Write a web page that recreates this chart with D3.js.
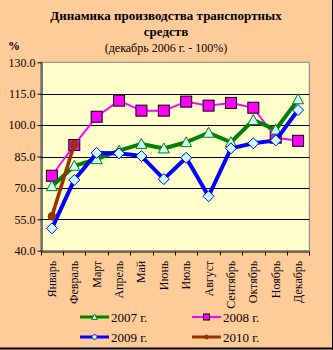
<!DOCTYPE html>
<html><head><meta charset="utf-8">
<script src="https://cdn.jsdelivr.net/npm/d3@7"></script>
<style>body{margin:0;padding:0;background:#fff}svg{display:block}</style>
</head><body>
<script>
const months = ["Январь","Февраль","Март","Апрель","Май","Июнь","Июль","Август","Сентябрь","Октябрь","Ноябрь","Декабрь"];
const yTicks = [40,55,70,85,100,115,130];
const v2007 = [70.8,80.5,83.7,87.8,91.0,88.8,91.8,96.3,91.8,102.4,97.8,112.3];
const v2008 = [75.8,90.5,104.0,111.7,106.9,106.9,111.2,109.3,110.6,108.3,94.0,92.5];
const v2009 = [50.7,73.8,86.7,86.5,85.2,74.2,84.4,66.0,88.9,91.3,92.7,107.2];
const v2010 = [56.4,90.8];
const seriesNames = ["2007 г.","2008 г.","2009 г.","2010 г."];

const W=333,H=350;
const svg=d3.select("body").append("svg").attr("width",W).attr("height",H);
svg.append("rect").attr("width",W).attr("height",H).attr("fill","#FFCC99");
svg.append("line").attr("x1",332.5).attr("x2",332.5).attr("y1",0).attr("y2",H).attr("stroke","#000");
svg.append("line").attr("x1",0).attr("x2",W).attr("y1",348.5).attr("y2",348.5).attr("stroke","#000").attr("stroke-width",2);

const L=40.7,R=309.3,T=62.3,B=250.7;
const x=d3.scaleBand().domain(months).range([L,R]);
const y=d3.scaleLinear().domain([40,130]).range([B,T]);
const cx=m=>x(m)+x.bandwidth()/2;

svg.append("rect").attr("x",L).attr("y",T).attr("width",R-L).attr("height",B-T).attr("fill","#FFFFCC").attr("stroke","#808080");
const g=svg.append("g");
yTicks.filter(t=>t>40&&t<130).forEach(t=>{
  g.append("line").attr("x1",L).attr("x2",R).attr("y1",Math.round(y(t))+0.5).attr("y2",Math.round(y(t))+0.5).attr("stroke","#000");
});
// y axis
const ya=svg.append("g").attr("transform",`translate(${Math.round(L)+0.5},0)`).call(d3.axisLeft(y).tickValues(yTicks).tickSize(4).tickSizeOuter(0).tickFormat(d3.format(".1f")));
ya.select(".domain").attr("stroke","#000");
ya.selectAll("text").attr("font-family","Liberation Serif").attr("font-size","12px").attr("fill","#000").attr("x",-6);
// x axis
const xa=svg.append("g").attr("transform",`translate(0,${Math.round(B)+0.5})`).call(d3.axisBottom(x).tickSize(4).tickSizeOuter(0).tickFormat(""));
xa.selectAll(".tick").remove();
xa.select(".domain").attr("stroke","#000");
months.concat(["_end"]).forEach((m,i)=>{
  const xx = Math.round(L + i*x.bandwidth())+0.5;
  xa.append("line").attr("x1",xx).attr("x2",xx).attr("y1",0).attr("y2",4).attr("stroke","#000");
});
months.forEach(m=>{
  svg.append("text").attr("transform",`translate(${cx(m)+4},${B+10}) rotate(-90)`)
    .attr("text-anchor","end").attr("font-family","Liberation Serif").attr("font-size","12px").attr("fill","#000").text(m);
});

const line=d3.line().x((d,i)=>cx(months[i])).y(d=>y(d));
function drawSeries(vals,color,width,marker){
  svg.append("path").datum(vals).attr("d",line).attr("fill","none").attr("stroke",color).attr("stroke-width",width).attr("stroke-linejoin","round");
  vals.forEach((v,i)=>marker(cx(months[i]),y(v)));
}
function tri(px,py,s){
  svg.append("path").attr("d",`M${px},${py-s}L${px+s},${py+s*0.8}L${px-s},${py+s*0.8}Z`).attr("fill","#CCFFFF").attr("stroke","#008000").attr("stroke-width",1);
}
function sq(px,py,s){
  svg.append("rect").attr("x",px-s).attr("y",py-s).attr("width",2*s).attr("height",2*s).attr("fill","#FF00FF").attr("stroke","#000").attr("stroke-width",1);
}
function dia(px,py,s){
  svg.append("path").attr("d",`M${px},${py-s}L${px+s},${py}L${px},${py+s}L${px-s},${py}Z`).attr("fill","#CCFFFF").attr("stroke","#0000FF").attr("stroke-width",1);
}
function circ(px,py,s){
  svg.append("circle").attr("cx",px).attr("cy",py).attr("r",s).attr("fill","#993300").attr("stroke","#993300");
}
drawSeries(v2008,"#FF00FF",2,(a,b)=>sq(a,b,5.5));
drawSeries(v2007,"#008000",4,(a,b)=>tri(a,b,5.5));
drawSeries(v2009,"#0000FF",4,(a,b)=>dia(a,b,5.5));
drawSeries(v2010,"#993300",3.5,(a,b)=>circ(a,b,3.8));

// titles
const tf="Liberation Serif";
svg.append("text").attr("x",166).attr("y",20).attr("text-anchor","middle").attr("font-family",tf).attr("font-weight","bold").attr("font-size","13px").text("Динамика производства транспортных");
svg.append("text").attr("x",166).attr("y",36).attr("text-anchor","middle").attr("font-family",tf).attr("font-weight","bold").attr("font-size","13px").text("средств");
svg.append("text").attr("x",166).attr("y",52).attr("text-anchor","middle").attr("font-family",tf).attr("font-size","12px").text("(декабрь 2006 г. - 100%)");
svg.append("text").attr("x",14).attr("y",50).attr("text-anchor","middle").attr("font-family",tf).attr("font-weight","bold").attr("font-size","12px").text("%");

// legend
const leg=[{n:seriesNames[0],c:"#008000",w:3,m:tri,x:80,y:317},{n:seriesNames[1],c:"#FF00FF",w:2,m:sq,x:192,y:317},{n:seriesNames[2],c:"#0000FF",w:3,m:dia,x:80,y:337},{n:seriesNames[3],c:"#993300",w:3,m:circ,x:192,y:337}];
leg.forEach(l=>{
  svg.append("line").attr("x1",l.x).attr("x2",l.x+29).attr("y1",l.y).attr("y2",l.y).attr("stroke",l.c).attr("stroke-width",l.w);
  l.m(l.x+14.5,l.y,l.m===circ?2:3);
  svg.append("text").attr("x",l.x+31).attr("y",l.y+4.5).attr("font-family",tf).attr("font-size","13px").text(l.n);
});
</script>
</body></html>
